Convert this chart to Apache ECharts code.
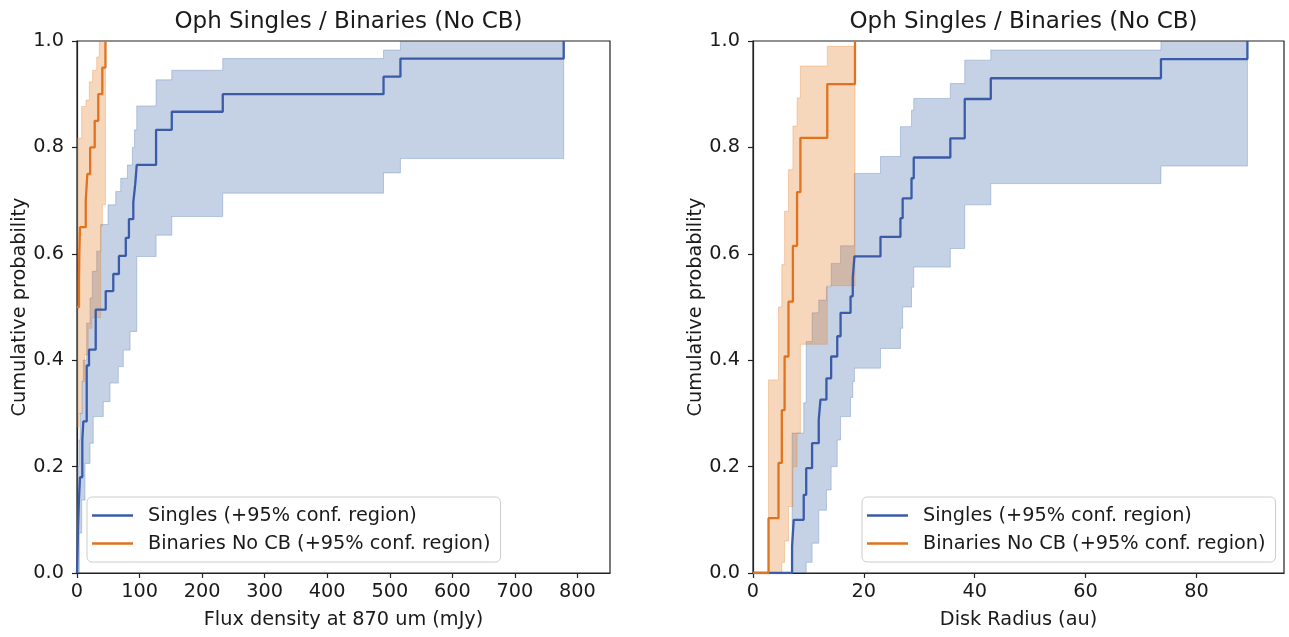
<!DOCTYPE html>
<html><head><meta charset="utf-8">
<script src="https://cdn.jsdelivr.net/npm/echarts@6/dist/echarts.min.js"></script>
<style>html,body{margin:0;padding:0;background:#fff}#c{width:1289px;height:637px}</style>
</head><body><div id="c"></div>
<script>
// ---------- text ----------
const titleText = 'Oph Singles / Binaries (No CB)';
const yName = 'Cumulative probability';
const fluxName = 'Flux density at 870 um (mJy)';
const radiusName = 'Disk Radius (au)';
const singlesName = 'Singles (+95% conf. region)';
const binariesName = 'Binaries No CB (+95% conf. region)';

// ---------- ticks ----------
const yTicks = [0, 0.2, 0.4, 0.6, 0.8, 1.0];
const fluxTicks = [0, 100, 200, 300, 400, 500, 600, 700, 800];
const radiusTicks = [0, 20, 40, 60, 80];

// ---------- left panel: flux density, singles ----------
const fluxSinglesX   = [0, 1.0, 1.8, 3.2, 4.8, 8.5, 10.1, 15.5, 19.2, 29.9, 45.9, 58, 67, 78, 83, 90, 93, 95.5, 126.4, 151.5, 233, 490, 517, 778];
const fluxSinglesCdf = [0, 0.05, 0.09, 0.14, 0.18, 0.25, 0.285, 0.39, 0.42, 0.495, 0.53, 0.562, 0.596, 0.63, 0.665, 0.697, 0.73, 0.767, 0.833, 0.867, 0.9, 0.933, 0.967, 1.0];
const fluxSinglesHiX = [0.6, 3.2, 4.8, 8.5, 10.1, 15.5, 20.8, 24.5, 31.5, 37.9, 49.6, 61.9, 69.9, 80.6, 88.5, 92, 95.5, 126.4, 151.5, 233, 490, 517, 778];
const fluxSinglesHi  = [0.2, 0.25, 0.3, 0.36, 0.4, 0.47, 0.517, 0.567, 0.605, 0.655, 0.692, 0.717, 0.742, 0.767, 0.80, 0.833, 0.878, 0.927, 0.945, 0.967, 0.983, 1.0, 1.0];
const fluxSinglesLoX = [0.6, 3.7, 7.5, 12.8, 20.8, 26, 42, 52.8, 66, 74, 84.8, 95.5, 126.4, 151.5, 233, 490, 517, 778];
const fluxSinglesLo  = [0, 0.075, 0.137, 0.206, 0.244, 0.294, 0.322, 0.357, 0.388, 0.419, 0.454, 0.595, 0.635, 0.67, 0.714, 0.752, 0.779, 0.779];

// ---------- left panel: flux density, binaries ----------
const fluxBinX   = [0, 3.2, 3.7, 4.8, 14.0, 16.5, 21.0, 28.3, 34.0, 40.5, 45.5];
const fluxBinCdf = [0.5, 0.55, 0.6, 0.65, 0.70, 0.75, 0.80, 0.85, 0.90, 0.95, 1.0];
const fluxBinHiX = [0, 7.5, 14.4, 19.7, 25.0, 31.5, 35.7, 45.5];
const fluxBinHi  = [0.817, 0.877, 0.889, 0.923, 0.945, 0.97, 1.0, 1.0];
const fluxBinLoX = [0, 3.2, 8, 12, 18, 24, 37.9, 40.5, 45.5];
const fluxBinLo  = [0.275, 0.30, 0.36, 0.41, 0.46, 0.48, 0.652, 0.692, 0.692];

// ---------- right panel: disk radius, singles ----------
const radSinglesX   = [0, 7.05, 7.35, 9.15, 9.6, 10.66, 11.86, 12.17, 13.25, 14.1, 15.2, 15.8, 17.6, 18.0, 18.3, 23.0, 26.6, 27.0, 28.6, 29.0, 35.6, 38.2, 42.9, 73.6, 89.2];
const radSinglesCdf = [0, 0.05, 0.10, 0.147, 0.197, 0.244, 0.288, 0.326, 0.366, 0.407, 0.445, 0.489, 0.52, 0.555, 0.595, 0.632, 0.667, 0.704, 0.742, 0.781, 0.817, 0.891, 0.930, 0.966, 1.0];
const radSinglesBandX = [7.05, 7.35, 9.15, 9.6, 10.66, 11.86, 12.17, 13.25, 14.1, 15.2, 15.8, 17.6, 18.0, 18.3, 23.0, 26.6, 27.0, 28.6, 29.0, 35.6, 38.2, 42.9, 73.6, 89.2];
const radSinglesHi  = [0.263, 0.263, 0.32, 0.435, 0.489, 0.513, 0.513, 0.538, 0.582, 0.582, 0.615, 0.615, 0.615, 0.751, 0.783, 0.839, 0.839, 0.87, 0.892, 0.92, 0.964, 0.983, 1.0, 1.0];
const radSinglesLo  = [0, 0, 0, 0.02, 0.056, 0.118, 0.118, 0.156, 0.2, 0.25, 0.294, 0.33, 0.36, 0.385, 0.422, 0.46, 0.5, 0.537, 0.575, 0.61, 0.692, 0.732, 0.765, 0.765];

// ---------- right panel: disk radius, binaries ----------
const radBinX   = [0, 2.8, 4.6, 5.2, 5.7, 6.4, 7.2, 7.95, 8.55, 13.4, 18.4];
const radBinCdf = [0, 0.103, 0.207, 0.306, 0.407, 0.51, 0.615, 0.716, 0.818, 0.919, 1.0];
const radBinBandX = [2.8, 4.6, 5.2, 5.7, 6.4, 7.2, 7.95, 8.55, 13.4, 18.4];
const radBinHi  = [0.363, 0.50, 0.58, 0.68, 0.758, 0.84, 0.893, 0.953, 0.99, 0.99];
const radBinLo  = [0, 0, 0.02, 0.06, 0.125, 0.2, 0.263, 0.43, 0.54, 0.54];

// ---------- styling ----------
const FONT = 'DejaVu Sans';
const FS = 19.3;
const TXT = '#1a1a1a';
const AX = '#222';
const BLUE = '#3a5ba8';
const ORANGE = '#e0731f';
const BLUE_FILL = 'rgba(76,114,176,0.32)';
const ORANGE_FILL = 'rgba(228,125,35,0.31)';

function zip(xs, ys) { return xs.map((x, i) => [x, ys[i]]); }
function stepPts(xs, ys) {
  const pts = [];
  for (let i = 0; i < xs.length; i++) {
    if (i > 0) pts.push([xs[i], ys[i - 1]]);
    pts.push([xs[i], ys[i]]);
  }
  return pts;
}
function bandPoly(hiX, hiY, loX, loY) {
  return stepPts(hiX, hiY).concat(stepPts(loX, loY).reverse());
}
function bandSeries(gi, poly, fill) {
  return {
    type: 'custom', xAxisIndex: gi, yAxisIndex: gi, silent: true, clip: true, z: 2,
    data: [[0, 0]],
    renderItem: function (params, api) {
      return {
        type: 'polygon',
        shape: { points: poly.map(p => api.coord(p)) },
        style: { fill: fill, stroke: fill, lineWidth: 1 }
      };
    }
  };
}
function lineSeries(gi, name, xs, ys, color) {
  return {
    type: 'line', name: name, xAxisIndex: gi, yAxisIndex: gi, step: 'end',
    showSymbol: false, symbol: 'none', z: 4, clip: true, animation: false,
    lineStyle: { color: color, width: 2.3 }, itemStyle: { color: color },
    data: zip(xs, ys)
  };
}
function xAxis(gi, max, ticks, name) {
  return {
    type: 'value', gridIndex: gi, min: 0, max: max, interval: ticks[1] - ticks[0],
    name: name, nameLocation: 'middle', nameGap: 37,
    nameTextStyle: { fontFamily: FONT, fontSize: FS, color: TXT },
    axisLine: { show: true, onZero: false, lineStyle: { color: AX, width: 1.2 } },
    axisTick: { show: true, length: 5, lineStyle: { color: AX, width: 1.2 }, customValues: ticks },
    axisLabel: { fontFamily: FONT, fontSize: FS, color: TXT, margin: 9, customValues: ticks,
      formatter: v => ticks.indexOf(v) >= 0 ? String(v) : '' },
    splitLine: { show: false }
  };
}
function yAxis(gi) {
  return {
    type: 'value', gridIndex: gi, min: 0, max: 1, interval: 0.2,
    name: yName, nameLocation: 'middle', nameGap: 46, nameRotate: 90,
    nameTextStyle: { fontFamily: FONT, fontSize: FS, color: TXT },
    axisLine: { show: true, onZero: false, lineStyle: { color: AX, width: 1.2 } },
    axisTick: { show: true, length: 5, lineStyle: { color: AX, width: 1.2 }, customValues: yTicks },
    axisLabel: { fontFamily: FONT, fontSize: FS, color: TXT, margin: 13, customValues: yTicks, formatter: v => v.toFixed(1) },
    splitLine: { show: false }
  };
}
function legend(left) {
  return {
    left: left, top: 497, orient: 'vertical',
    data: [singlesName, binariesName],
    icon: 'rect', itemWidth: 41, itemHeight: 2.5, itemGap: 7,
    padding: [8, 10, 8, 5],
    backgroundColor: 'rgba(255,255,255,0.85)', borderColor: '#cccccc', borderWidth: 1, borderRadius: 5,
    selectedMode: false,
    textStyle: { fontFamily: FONT, fontSize: FS, color: TXT, lineHeight: 21, padding: [0, 0, 0, 10] }
  };
}

const chart = echarts.init(document.getElementById('c'), null, { renderer: 'canvas' });
chart.setOption({
  animation: false,
  backgroundColor: '#fff',
  title: [
    { text: titleText, left: 343.5, top: 6, textAlign: 'center', textStyle: { fontFamily: FONT, fontSize: 23, fontWeight: 'normal', color: TXT } },
    { text: titleText, left: 1018.5, top: 6, textAlign: 'center', textStyle: { fontFamily: FONT, fontSize: 23, fontWeight: 'normal', color: TXT } }
  ],
  grid: [
    { left: 77, top: 41, width: 533, height: 532, show: true, borderColor: AX, borderWidth: 1.2, backgroundColor: 'transparent' },
    { left: 753, top: 41, width: 531, height: 532, show: true, borderColor: AX, borderWidth: 1.2, backgroundColor: 'transparent' }
  ],
  xAxis: [xAxis(0, 852, fluxTicks, fluxName), xAxis(1, 95.8, radiusTicks, radiusName)],
  yAxis: [yAxis(0), yAxis(1)],
  legend: [legend(87), legend(862)],
  series: [
    bandSeries(0, bandPoly(fluxSinglesHiX, fluxSinglesHi, fluxSinglesLoX, fluxSinglesLo), BLUE_FILL),
    bandSeries(0, bandPoly(fluxBinHiX, fluxBinHi, fluxBinLoX, fluxBinLo), ORANGE_FILL),
    lineSeries(0, singlesName, fluxSinglesX, fluxSinglesCdf, BLUE),
    lineSeries(0, binariesName, fluxBinX, fluxBinCdf, ORANGE),
    bandSeries(1, bandPoly(radSinglesBandX, radSinglesHi, radSinglesBandX, radSinglesLo), BLUE_FILL),
    bandSeries(1, bandPoly(radBinBandX, radBinHi, radBinBandX, radBinLo), ORANGE_FILL),
    lineSeries(1, singlesName, radSinglesX, radSinglesCdf, BLUE),
    lineSeries(1, binariesName, radBinX, radBinCdf, ORANGE)
  ]
});
</script></body></html>
